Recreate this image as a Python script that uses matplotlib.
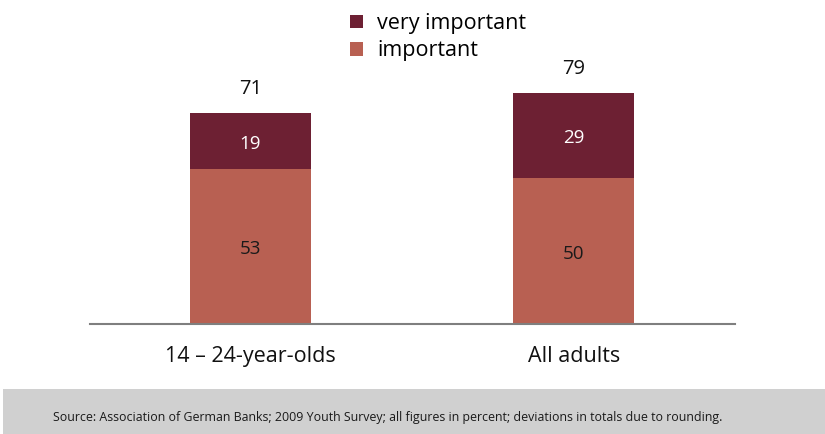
import matplotlib
matplotlib.use("Agg")
import matplotlib.pyplot as plt
from matplotlib.patches import Rectangle

plt.rcParams['font.family'] = ['Open Sans', 'DejaVu Sans']

categories = ["14 – 24-year-olds", "All adults"]
important = [53, 50]
very_important = [19, 29]
totals = [71, 79]
series_names = ["very important", "important"]
source = "Source: Association of German Banks; 2009 Youth Survey; all figures in percent; deviations in totals due to rounding."

c_dark = "#6d2033"
c_light = "#b86052"

W, H = 825, 434
fig = plt.figure(figsize=(W / 100, H / 100), dpi=100)

# axes placed in pixel coordinates
ax_left, ax_right = 90, 735
ax_bottom_px, ax_top_px = 324, 0
ax = fig.add_axes([ax_left / W, (H - ax_bottom_px) / H, (ax_right - ax_left) / W, (ax_bottom_px - ax_top_px) / H])

x = list(range(len(categories)))
px_per_unit_x = 323.2
ax.set_xlim(-(250.5 - ax_left) / px_per_unit_x, 1 + (ax_right - 573.7) / px_per_unit_x)
ax.set_ylim(0, (ax_bottom_px - ax_top_px) / 2.93)

bw = 121 / px_per_unit_x
ax.bar(x, important, width=bw, color=c_light, label=series_names[1], zorder=2)
ax.bar(x, very_important, width=bw, bottom=important, color=c_dark, label=series_names[0], zorder=2)

for i in x:
    ax.annotate(str(important[i]), (i, important[i] / 2), xytext=(0, -2), textcoords='offset points',
                ha='center', va='center', fontsize=13.5, color='#1a1a1a')
    ax.annotate(str(very_important[i]), (i, important[i] + very_important[i] / 2), xytext=(0, -2),
                textcoords='offset points', ha='center', va='center', fontsize=13.5, color='white')
    ax.annotate(str(totals[i]), (i, important[i] + very_important[i]), xytext=(0, 17), textcoords='offset points',
                ha='center', va='center', fontsize=14.5, color='#111111')

for s in ['top', 'right', 'left']:
    ax.spines[s].set_visible(False)
ax.spines['bottom'].set_color('#7f7f7f')
ax.spines['bottom'].set_linewidth(1.5)
ax.set_yticks([])
ax.set_xticks(x)
ax.set_xticklabels(categories, fontsize=15.5, color='#111111')
ax.tick_params(axis='x', length=0, pad=16)

handles, labels = ax.get_legend_handles_labels()
leg = fig.legend(handles[::-1], labels[::-1], loc='upper left', bbox_to_anchor=(335 / W, 1 + 2 / H),
                 frameon=False, fontsize=15.5, handlelength=0.62, handleheight=0.62, handletextpad=0.65,
                 labelspacing=0.29, borderpad=0.2)

# source box
fig.patches.append(Rectangle((3 / W, 0), 1 - 3 / W, (H - 389) / H, transform=fig.transFigure,
                             facecolor='#d0d0d0', edgecolor='none', zorder=0))
fig.text(53 / W, (H - 418) / H, source, fontsize=8.92, color='#1a1a1a', ha='left', va='center')

fig.savefig("out.png", dpi=100)
